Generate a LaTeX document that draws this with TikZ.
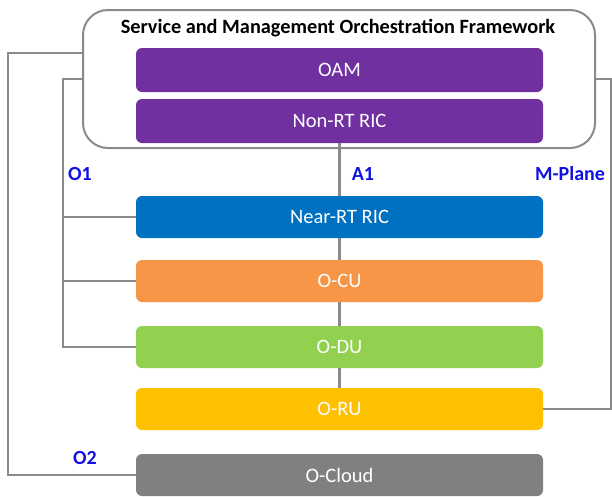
\documentclass[tikz,border=0pt]{standalone}
\usepackage{fontspec}
\setmainfont{Carlito}
\definecolor{cpurple}{HTML}{7030A0}
\definecolor{cblue}{HTML}{0070C0}
\definecolor{corange}{HTML}{F79646}
\definecolor{cgreen}{HTML}{92D050}
\definecolor{cgold}{HTML}{FFC000}
\definecolor{cgrey}{HTML}{808080}
\definecolor{cline}{HTML}{8A8A8A}
\definecolor{clabel}{HTML}{1010E0}
\tikzset{
  blk/.style={rounded corners=6pt, minimum width=407pt, inner sep=0pt, text=white, font=\fontsize{20.5}{24}\selectfont},
  conn/.style={draw=cline, line width=2.4pt},
  lbl/.style={text=clabel, font=\fontsize{20}{24}\selectfont\bfseries, inner sep=0pt}
}
\begin{document}
\begin{tikzpicture}[x=1pt,y=-1pt]
\useasboundingbox (0,0) rectangle (612,496);
\node[draw=cline, line width=2pt, rounded corners=25pt, minimum width=512pt, minimum height=138pt, inner sep=0pt] (frame) at (339,79) {};
\node[font=\fontsize{20.3}{24}\selectfont\bfseries, inner sep=0pt] (title) at (338,28) {Service and Management Orchestration Framework};
\node[blk, fill=cpurple, minimum height=44pt] (oam) at (339.5,70) {OAM};
\node[blk, fill=cpurple, minimum height=44pt] (nonrt) at (339.5,121) {Non-RT RIC};
\node[blk, fill=cblue, minimum height=42pt] (nearrt) at (339.5,217) {Near-RT RIC};
\node[blk, fill=corange, minimum height=42pt] (ocu) at (339.5,281) {O-CU};
\node[blk, fill=cgreen, minimum height=42pt] (odu) at (339.5,347) {O-DU};
\node[blk, fill=cgold, minimum height=42pt] (oru) at (339.5,409) {O-RU};
\node[blk, fill=cgrey, minimum height=42pt] (ocloud) at (339.5,475) {O-Cloud};
% vertical chain
\draw[conn] (nonrt.south) -- (nearrt.north);
\draw[conn] (nearrt.south) -- (ocu.north);
\draw[conn] (ocu.south) -- (odu.north);
\draw[conn] (odu.south) -- (oru.north);
% O1
\coordinate (o1bus) at (63,79);
\draw[conn] (frame.west |- o1bus) -- (o1bus) |- (odu.west);
\draw[conn] (o1bus |- nearrt.west) -- (nearrt.west);
\draw[conn] (o1bus |- ocu.west) -- (ocu.west);
% O2
\coordinate (o2top) at (8,53);
\draw[conn] (frame.west |- o2top) -- (o2top) |- (ocloud.west);
% M-Plane
\coordinate (mtop) at (611,79);
\draw[conn] (frame.east |- mtop) -- (mtop) |- (oru.east);
% labels
\node[lbl] (lo1) at (80,174) {O1};
\node[lbl] (la1) at (363,174) {A1};
\node[lbl] (lmp) at (570,174) {M-Plane};
\node[lbl] (lo2) at (85,458) {O2};
\end{tikzpicture}
\end{document}
